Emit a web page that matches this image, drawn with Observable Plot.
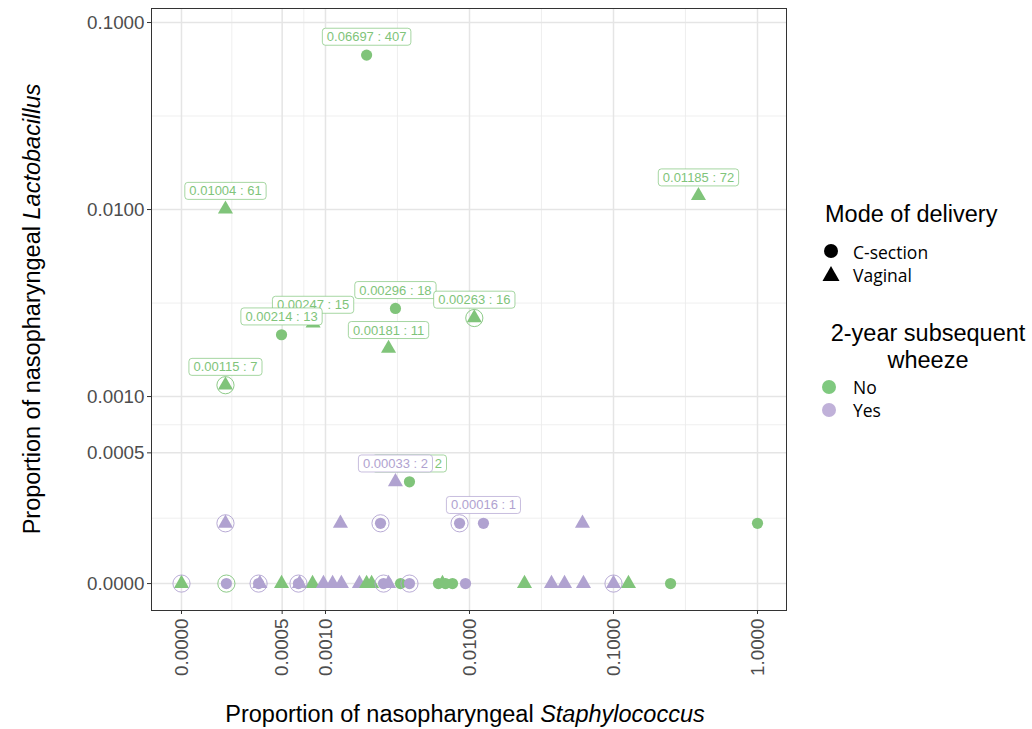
<!DOCTYPE html>
<html><head><meta charset="utf-8">
<script src="https://cdn.jsdelivr.net/npm/d3@7"></script>
<script src="https://cdn.jsdelivr.net/npm/@observablehq/plot@0.6"></script>
<style>
body{margin:0;background:#fff;}
#wrap{position:relative;width:1032px;height:729px;overflow:hidden;font-family:"Liberation Sans",Arial,Helvetica,sans-serif;}
#wrap svg{position:absolute;left:0;top:0;}
.t{position:absolute;white-space:nowrap;color:#000;}
.lt{position:absolute;white-space:nowrap;font-family:"Open Sans",sans-serif;font-size:17.5px;color:#000;transform:translateY(-50%);}
</style></head><body><div id="wrap"></div>
<script>
// ---- categories ----
const wheezeLevels = ["No", "Yes"];
const wheezeColors = ["#80c47a", "#b0a2d0"];
const legendColors = ["#7fc97f", "#c0b1d9"];
const deliveryLevels = ["C-section", "Vaginal"];

// ---- axis ticks (zero proportions are drawn at the 0.0001 pseudo-count) ----
const xTickValues = [0.0001, 0.0005, 0.001, 0.01, 0.1, 1];
const xTickLabels = ["0.0000", "0.0005", "0.0010", "0.0100", "0.1000", "1.0000"];
const yTickValues = [0.0001, 0.0005, 0.001, 0.01, 0.1];
const yTickLabels = ["0.0000", "0.0005", "0.0010", "0.0100", "0.1000"];

// ---- points: proportion Staphylococcus (x), proportion Lactobacillus (y) ----
const pointStaph = [
  0, 0.000205, 0.000343, 0.00035, 0.000495, 0.000649, 0.00066, 0.000813, 0.000968, 0.00112,
  0.00129, 0.00172, 0.00193, 0.00209, 0.00253, 0.00274, 0.00332, 0.00383, 0.00609, 0.00649,
  0.00681, 0.00762, 0.00938, 0.0241, 0.0371, 0.0457, 0.0619, 0.1, 0.127, 0.249,
  0.000202, 0.00127, 0.00241, 0.00853, 0.0125, 0.0609, 1.0,
  0.00306, 0.00383,
  0.00193, 0.000202, 0.389, 0.00306, 0.0108, 0.00082, 0.000495, 0.00274, 0.000202
];
const pointLacto = [
  0, 0, 0, 0, 0, 0, 0, 0, 0, 0,
  0, 0, 0, 0, 0, 0, 0, 0, 0, 0,
  0, 0, 0, 0, 0, 0, 0, 0, 0, 0,
  0.00021, 0.00021, 0.00021, 0.00021, 0.00021, 0.00021, 0.00021,
  0.00035, 0.00035,
  0.06697, 0.01004, 0.01185, 0.00296, 0.00263, 0.00247, 0.00214, 0.00181, 0.00115
];
const pointDelivery = [
  "Vaginal","C-section","C-section","Vaginal","Vaginal","C-section","Vaginal","Vaginal","Vaginal","Vaginal",
  "Vaginal","Vaginal","Vaginal","Vaginal","C-section","Vaginal","C-section","C-section","C-section","Vaginal",
  "C-section","C-section","C-section","Vaginal","Vaginal","Vaginal","Vaginal","Vaginal","Vaginal","C-section",
  "Vaginal","Vaginal","C-section","C-section","C-section","Vaginal","C-section",
  "Vaginal","C-section",
  "C-section","Vaginal","Vaginal","C-section","Vaginal","Vaginal","C-section","Vaginal","Vaginal"
];
const pointWheeze = [
  "No","Yes","Yes","Yes","No","Yes","Yes","No","Yes","Yes",
  "Yes","Yes","No","No","Yes","Yes","No","Yes","No","No",
  "No","No","Yes","No","Yes","Yes","Yes","Yes","No","No",
  "Yes","Yes","Yes","Yes","Yes","Yes","No",
  "Yes","No",
  "No","No","No","No","No","No","No","No","No"
];

// ---- open rings ----
const ringStaph = [0, 0.000205, 0.000343, 0.000649, 0.00253, 0.00383, 0.1, 0.000202, 0.00241, 0.00853, 0.0108, 0.000202];
const ringLacto = [0, 0, 0, 0, 0, 0, 0, 0.00021, 0.00021, 0.00021, 0.00263, 0.00115];
const ringWheeze = ["Yes","No","Yes","Yes","Yes","Yes","Yes","Yes","Yes","Yes","No","No"];

// ---- labels ----
const labelStaph = [0.00193, 0.000202, 0.389, 0.00082, 0.000495, 0.00306, 0.0108, 0.00274, 0.000202, 0.00383, 0.00306, 0.0125];
const labelLacto = [0.06697, 0.01004, 0.01185, 0.00247, 0.00214, 0.00296, 0.00263, 0.00181, 0.00115, 0.00035, 0.00035, 0.00021];
const labelText = ["0.06697 : 407","0.01004 : 61","0.01185 : 72","0.00247 : 15","0.00214 : 13","0.00296 : 18","0.00263 : 16","0.00181 : 11","0.00115 : 7","0.00033 : 2","0.00033 : 2","0.00016 : 1"];
const labelWheeze = ["No","No","No","No","No","No","No","No","No","No","Yes","Yes"];

// ---- build tables ----
const PSEUDO = 0.0001;
const pos = v => Math.max(v, PSEUDO);
const points = pointStaph.map((x, i) => ({x: pos(x), y: pos(pointLacto[i]), d: pointDelivery[i], w: pointWheeze[i]}));
const rings = ringStaph.map((x, i) => ({x: pos(x), y: pos(ringLacto[i]), w: ringWheeze[i]}));
const labels = labelStaph.map((x, i) => ({x: pos(x), y: pos(labelLacto[i]), t: labelText[i], w: labelWheeze[i]}));
const xTicks = xTickValues.map((v, i) => ({v, t: xTickLabels[i]}));
const yTicks = yTickValues.map((v, i) => ({v, t: yTickLabels[i]}));

const gm = (a, b) => Math.sqrt(a * b);
const xMinor = xTickValues.slice(0, -1).map((v, i) => gm(v, xTickValues[i + 1]));
const yMinor = yTickValues.slice(0, -1).map((v, i) => gm(v, yTickValues[i + 1]));
const colorOf = w => wheezeColors[wheezeLevels.indexOf(w)];
const AXIS = "#4d4d4d";

const chart = Plot.plot({
  width: 1032, height: 729,
  marginLeft: 151, marginRight: 246, marginTop: 8, marginBottom: 119,
  style: {fontFamily: '"Liberation Sans", Arial, Helvetica, sans-serif', background: "white"},
  x: {type: "log", domain: [Math.pow(10, -4.2083), Math.pow(10, 0.2014)]},
  y: {type: "log", domain: [Math.pow(10, -4.144), Math.pow(10, -0.925)]},
  color: {domain: wheezeLevels, range: wheezeColors},
  symbol: {domain: deliveryLevels, range: ["circle", "triangle"]},
  marks: [
    Plot.ruleX(xMinor, {stroke: "#ebebeb", strokeWidth: 0.8}),
    Plot.ruleY(yMinor, {stroke: "#ebebeb", strokeWidth: 0.8}),
    Plot.ruleX(xTickValues, {stroke: "#e5e5e5", strokeWidth: 1.5}),
    Plot.ruleY(yTickValues, {stroke: "#e5e5e5", strokeWidth: 1.5}),
    Plot.dot(points, {x: "x", y: "y", symbol: "d", fill: "w", r: 5.6, stroke: "none"}),
    Plot.dot(rings, {x: "x", y: "y", stroke: "w", r: 8.6, strokeWidth: 0.9, fill: "none"}),
    Plot.text(labels, {x: "x", y: "y", text: "t", fill: d => colorOf(d.w), dy: -18, fontSize: 13}),
    Plot.frame({stroke: "#333333", strokeWidth: 1}),
    // tick marks
    Plot.axisX({ticks: xTickValues, tickFormat: () => "", tickSize: 4, stroke: "#333333", label: null}),
    Plot.axisY({ticks: yTickValues, tickFormat: () => "", tickSize: 4, stroke: "#333333", label: null}),
    // tick labels
    Plot.text(xTicks, {x: "v", text: "t", frameAnchor: "bottom", rotate: -90, textAnchor: "end", lineAnchor: "middle", dy: 8, fontSize: 18.8, fill: AXIS}),
    Plot.text(yTicks, {y: "v", text: "t", frameAnchor: "left", textAnchor: "end", lineAnchor: "middle", dx: -7, fontSize: 18.8, fill: AXIS})
  ]
});

const wrap = document.getElementById("wrap");
wrap.appendChild(chart);

// label boxes (white rounded rectangles behind each point-label text)
const svgNS = "http://www.w3.org/2000/svg";
const textGroups = chart.querySelectorAll('g[aria-label="text"]');
if (textGroups.length) {
  textGroups[0].querySelectorAll("text").forEach(t => {
    const b = t.getBBox();
    const col = t.getAttribute("fill") || "#7fc97f";
    const r = document.createElementNS(svgNS, "rect");
    r.setAttribute("x", b.x - 4.5);
    r.setAttribute("y", b.y - 1);
    r.setAttribute("width", b.width + 9);
    r.setAttribute("height", b.height + 2);
    r.setAttribute("rx", 3); r.setAttribute("ry", 3);
    r.setAttribute("fill", "white");
    r.setAttribute("stroke", col);
    r.setAttribute("stroke-width", 0.7);
    if (t.getAttribute("transform")) r.setAttribute("transform", t.getAttribute("transform"));
    t.parentNode.insertBefore(r, t);
  });
}

// titles
function addDiv(html, css, cls) {
  const d = document.createElement("div");
  d.className = cls || "t";
  d.innerHTML = html;
  Object.assign(d.style, css);
  wrap.appendChild(d);
  return d;
}
addDiv('Proportion of nasopharyngeal <i>Staphylococcus</i>', {left: "465px", top: "714px", fontSize: "23.5px", transform: "translate(-50%,-50%)"});
addDiv('Proportion of nasopharyngeal <i>Lactobacillus</i>', {left: "32px", top: "309px", fontSize: "23.5px", transform: "translate(-50%,-50%) rotate(-90deg)"});

// legend
addDiv('Mode of delivery', {left: "825px", top: "214px", fontSize: "23.5px", transform: "translateY(-50%)"});
function sym(cx, cy, kind, color) {
  const s = document.createElementNS(svgNS, "svg");
  s.setAttribute("width", 20); s.setAttribute("height", 20);
  s.style.position = "absolute";
  s.style.left = (cx - 10) + "px"; s.style.top = (cy - 10) + "px";
  let el;
  if (kind === "circle") {
    el = document.createElementNS(svgNS, "circle");
    el.setAttribute("cx", 10); el.setAttribute("cy", 10); el.setAttribute("r", 7);
  } else {
    el = document.createElementNS(svgNS, "path");
    el.setAttribute("d", "M10,2 L18.5,17 L1.5,17 Z");
  }
  el.setAttribute("fill", color);
  s.appendChild(el);
  wrap.appendChild(s);
}
sym(831, 251, "circle", "#000");
sym(831, 274, "triangle", "#000");
addDiv(deliveryLevels[0], {left: "853px", top: "252px"}, "lt");
addDiv(deliveryLevels[1], {left: "853px", top: "275px"}, "lt");

addDiv('2-year subsequent', {left: "928px", top: "333px", fontSize: "23.5px", transform: "translate(-50%,-50%)"});
addDiv('wheeze', {left: "928px", top: "360px", fontSize: "23.5px", transform: "translate(-50%,-50%)"});
sym(829, 387, "circle", legendColors[0]);
sym(829, 410, "circle", legendColors[1]);
addDiv(wheezeLevels[0], {left: "853px", top: "387px"}, "lt");
addDiv(wheezeLevels[1], {left: "853px", top: "410px"}, "lt");
</script>
</body></html>
